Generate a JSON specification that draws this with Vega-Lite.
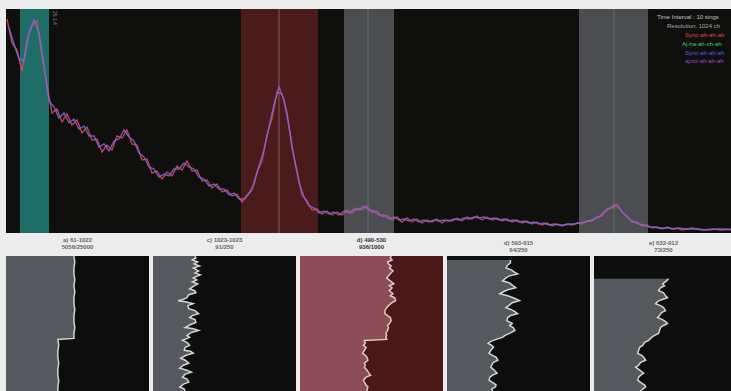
{
  "$schema": "https://vega.github.io/schema/vega-lite/v6.json",
  "padding": {"left": 4, "top": 8, "right": 0, "bottom": 0},
  "background": "#ececec",
  "config": {"view": {"stroke": null}, "font": "Liberation Sans", "title": {"font": "Liberation Sans"}},
  "spacing": 3,
  "datasets": {
    "bands": [
      {"a": 18, "b": 47, "k": "teal"},
      {"a": 239, "b": 316, "k": "red"},
      {"a": 342, "b": 392, "k": "grey"},
      {"a": 577, "b": 646, "k": "grey"}
    ],
    "marks": [
      {"p": 277, "k": "red"},
      {"p": 366, "k": "grey"},
      {"p": 612, "k": "grey"}
    ],
    "legend": [
      {"t": "Time Interval : 10 sings", "x": 655, "y": 216, "k": "a"},
      {"t": "Resolution: 1024 ch", "x": 665, "y": 207, "k": "b"},
      {"t": "Sync-ah-ah-ah", "x": 683, "y": 198, "k": "c"},
      {"t": "Aj-ha-ah-ch-ah", "x": 680, "y": 189, "k": "d"},
      {"t": "Sync-ah-ah-ah", "x": 683, "y": 180, "k": "e"},
      {"t": "ajnct-ah-ah-ah", "x": 683, "y": 172, "k": "f"}
    ],
    "spec": [
      {"s":"red","x":5,"v":214},{"s":"red","x":10,"v":190},{"s":"red","x":15,"v":183},{"s":"red","x":20,"v":162},{"s":"red","x":25,"v":193},{"s":"red","x":30,"v":207},{"s":"red","x":35,"v":212},{"s":"red","x":40,"v":176},{"s":"red","x":45,"v":148},{"s":"red","x":50,"v":120},{"s":"red","x":55,"v":124},{"s":"red","x":60,"v":111},{"s":"red","x":65,"v":119},{"s":"red","x":70,"v":108},{"s":"red","x":75,"v":113},{"s":"red","x":80,"v":100},{"s":"red","x":85,"v":106},{"s":"red","x":90,"v":93},{"s":"red","x":95,"v":94},{"s":"red","x":100,"v":81},{"s":"red","x":105,"v":88},{"s":"red","x":110,"v":83},{"s":"red","x":115,"v":97},{"s":"red","x":120,"v":95},{"s":"red","x":125,"v":103},{"s":"red","x":130,"v":89},{"s":"red","x":135,"v":88},{"s":"red","x":140,"v":73},{"s":"red","x":145,"v":74},{"s":"red","x":150,"v":60},{"s":"red","x":155,"v":62},{"s":"red","x":160,"v":54},{"s":"red","x":165,"v":61},{"s":"red","x":170,"v":57},{"s":"red","x":175,"v":67},{"s":"red","x":180,"v":63},{"s":"red","x":185,"v":72},{"s":"red","x":190,"v":62},{"s":"red","x":195,"v":63},{"s":"red","x":200,"v":52},{"s":"red","x":205,"v":53},{"s":"red","x":210,"v":45},{"s":"red","x":215,"v":49},{"s":"red","x":220,"v":41},{"s":"red","x":225,"v":43},{"s":"red","x":230,"v":37},{"s":"red","x":235,"v":39},{"s":"red","x":240,"v":31},{"s":"red","x":245,"v":37},{"s":"red","x":250,"v":43},{"s":"red","x":255,"v":61},{"s":"red","x":260,"v":72},{"s":"red","x":265,"v":98},{"s":"red","x":270,"v":115},{"s":"red","x":275,"v":141},{"s":"red","x":280,"v":139},{"s":"red","x":285,"v":121},{"s":"red","x":290,"v":85},{"s":"red","x":295,"v":62},{"s":"red","x":300,"v":38},{"s":"red","x":305,"v":32},{"s":"red","x":310,"v":23},{"s":"red","x":315,"v":24},{"s":"red","x":320,"v":19},{"s":"red","x":325,"v":22},{"s":"red","x":330,"v":18},{"s":"red","x":335,"v":21},{"s":"red","x":340,"v":18},{"s":"red","x":345,"v":23},{"s":"red","x":350,"v":20},{"s":"red","x":355,"v":25},{"s":"red","x":360,"v":23},{"s":"red","x":365,"v":27},{"s":"red","x":370,"v":20},{"s":"red","x":375,"v":22},{"s":"red","x":380,"v":16},{"s":"red","x":385,"v":18},{"s":"red","x":390,"v":13},{"s":"red","x":395,"v":16},{"s":"red","x":400,"v":11},{"s":"red","x":405,"v":15},{"s":"red","x":410,"v":11},{"s":"red","x":415,"v":14},{"s":"red","x":420,"v":10},{"s":"red","x":425,"v":13},{"s":"red","x":430,"v":11},{"s":"red","x":435,"v":14},{"s":"red","x":440,"v":10},{"s":"red","x":445,"v":13},{"s":"red","x":450,"v":12},{"s":"red","x":455,"v":15},{"s":"red","x":460,"v":12},{"s":"red","x":465,"v":16},{"s":"red","x":470,"v":14},{"s":"red","x":475,"v":17},{"s":"red","x":480,"v":13},{"s":"red","x":485,"v":16},{"s":"red","x":490,"v":13},{"s":"red","x":495,"v":15},{"s":"red","x":500,"v":12},{"s":"red","x":505,"v":14},{"s":"red","x":510,"v":11},{"s":"red","x":515,"v":13},{"s":"red","x":520,"v":10},{"s":"red","x":525,"v":12},{"s":"red","x":530,"v":9},{"s":"red","x":535,"v":11},{"s":"red","x":540,"v":8},{"s":"red","x":545,"v":10},{"s":"red","x":550,"v":7},{"s":"red","x":555,"v":9},{"s":"red","x":560,"v":7},{"s":"red","x":565,"v":9},{"s":"red","x":570,"v":8},{"s":"red","x":575,"v":10},{"s":"red","x":580,"v":9},{"s":"red","x":585,"v":12},{"s":"red","x":590,"v":12},{"s":"red","x":595,"v":16},{"s":"red","x":600,"v":17},{"s":"red","x":605,"v":24},{"s":"red","x":610,"v":25},{"s":"red","x":615,"v":29},{"s":"red","x":620,"v":21},{"s":"red","x":625,"v":17},{"s":"red","x":630,"v":11},{"s":"red","x":635,"v":11},{"s":"red","x":640,"v":7},{"s":"red","x":645,"v":8},{"s":"red","x":650,"v":5},{"s":"red","x":655,"v":6},{"s":"red","x":660,"v":4},{"s":"red","x":665,"v":6},{"s":"red","x":670,"v":4},{"s":"red","x":675,"v":5},{"s":"red","x":680,"v":3},{"s":"red","x":690,"v":5},{"s":"red","x":700,"v":3},{"s":"red","x":710,"v":4},{"s":"red","x":720,"v":3},{"s":"red","x":731,"v":4},
      {"s":"blue","x":7,"v":205},{"s":"blue","x":12,"v":189},{"s":"blue","x":17,"v":174},{"s":"blue","x":22,"v":172},{"s":"blue","x":27,"v":200},{"s":"blue","x":32,"v":213},{"s":"blue","x":37,"v":200},{"s":"blue","x":42,"v":168},{"s":"blue","x":47,"v":132},{"s":"blue","x":52,"v":126},{"s":"blue","x":57,"v":115},{"s":"blue","x":62,"v":120},{"s":"blue","x":67,"v":110},{"s":"blue","x":72,"v":114},{"s":"blue","x":77,"v":104},{"s":"blue","x":82,"v":107},{"s":"blue","x":87,"v":97},{"s":"blue","x":92,"v":97},{"s":"blue","x":97,"v":86},{"s":"blue","x":102,"v":89},{"s":"blue","x":107,"v":82},{"s":"blue","x":112,"v":92},{"s":"blue","x":117,"v":94},{"s":"blue","x":122,"v":103},{"s":"blue","x":127,"v":96},{"s":"blue","x":132,"v":92},{"s":"blue","x":137,"v":80},{"s":"blue","x":142,"v":76},{"s":"blue","x":147,"v":66},{"s":"blue","x":152,"v":64},{"s":"blue","x":157,"v":56},{"s":"blue","x":162,"v":59},{"s":"blue","x":167,"v":57},{"s":"blue","x":172,"v":64},{"s":"blue","x":177,"v":64},{"s":"blue","x":182,"v":70},{"s":"blue","x":187,"v":66},{"s":"blue","x":192,"v":64},{"s":"blue","x":197,"v":56},{"s":"blue","x":202,"v":54},{"s":"blue","x":207,"v":47},{"s":"blue","x":212,"v":49},{"s":"blue","x":217,"v":44},{"s":"blue","x":222,"v":44},{"s":"blue","x":227,"v":38},{"s":"blue","x":232,"v":40},{"s":"blue","x":237,"v":34},{"s":"blue","x":242,"v":34},{"s":"blue","x":247,"v":40},{"s":"blue","x":252,"v":49},{"s":"blue","x":257,"v":67},{"s":"blue","x":262,"v":83},{"s":"blue","x":267,"v":106},{"s":"blue","x":272,"v":128},{"s":"blue","x":277,"v":146},{"s":"blue","x":282,"v":133},{"s":"blue","x":287,"v":106},{"s":"blue","x":292,"v":76},{"s":"blue","x":297,"v":50},{"s":"blue","x":302,"v":36},{"s":"blue","x":307,"v":27},{"s":"blue","x":312,"v":25},{"s":"blue","x":317,"v":20},{"s":"blue","x":322,"v":22},{"s":"blue","x":327,"v":19},{"s":"blue","x":332,"v":21},{"s":"blue","x":337,"v":18},{"s":"blue","x":342,"v":22},{"s":"blue","x":347,"v":20},{"s":"blue","x":352,"v":24},{"s":"blue","x":357,"v":23},{"s":"blue","x":362,"v":27},{"s":"blue","x":367,"v":23},{"s":"blue","x":372,"v":22},{"s":"blue","x":377,"v":18},{"s":"blue","x":382,"v":18},{"s":"blue","x":387,"v":14},{"s":"blue","x":392,"v":16},{"s":"blue","x":397,"v":13},{"s":"blue","x":402,"v":14},{"s":"blue","x":407,"v":12},{"s":"blue","x":412,"v":14},{"s":"blue","x":417,"v":11},{"s":"blue","x":422,"v":13},{"s":"blue","x":427,"v":11},{"s":"blue","x":432,"v":13},{"s":"blue","x":437,"v":12},{"s":"blue","x":442,"v":13},{"s":"blue","x":447,"v":12},{"s":"blue","x":452,"v":14},{"s":"blue","x":457,"v":13},{"s":"blue","x":462,"v":15},{"s":"blue","x":467,"v":14},{"s":"blue","x":472,"v":16},{"s":"blue","x":477,"v":15},{"s":"blue","x":482,"v":16},{"s":"blue","x":487,"v":14},{"s":"blue","x":492,"v":15},{"s":"blue","x":497,"v":13},{"s":"blue","x":502,"v":14},{"s":"blue","x":507,"v":12},{"s":"blue","x":512,"v":13},{"s":"blue","x":517,"v":11},{"s":"blue","x":522,"v":12},{"s":"blue","x":527,"v":10},{"s":"blue","x":532,"v":11},{"s":"blue","x":537,"v":9},{"s":"blue","x":542,"v":10},{"s":"blue","x":547,"v":8},{"s":"blue","x":552,"v":9},{"s":"blue","x":557,"v":8},{"s":"blue","x":562,"v":8},{"s":"blue","x":567,"v":9},{"s":"blue","x":572,"v":9},{"s":"blue","x":577,"v":10},{"s":"blue","x":582,"v":11},{"s":"blue","x":587,"v":12},{"s":"blue","x":592,"v":14},{"s":"blue","x":597,"v":16},{"s":"blue","x":602,"v":21},{"s":"blue","x":607,"v":24},{"s":"blue","x":612,"v":28},{"s":"blue","x":617,"v":25},{"s":"blue","x":622,"v":19},{"s":"blue","x":627,"v":14},{"s":"blue","x":632,"v":11},{"s":"blue","x":637,"v":9},{"s":"blue","x":642,"v":8},{"s":"blue","x":647,"v":6},{"s":"blue","x":652,"v":6},{"s":"blue","x":657,"v":5},{"s":"blue","x":662,"v":5},{"s":"blue","x":667,"v":5},{"s":"blue","x":672,"v":4},{"s":"blue","x":677,"v":5},{"s":"blue","x":685,"v":4},{"s":"blue","x":695,"v":4},{"s":"blue","x":705,"v":3},{"s":"blue","x":715,"v":4},{"s":"blue","x":725,"v":4},{"s":"blue","x":731,"v":3}
    ],
    "prof": [
      {"p":1,"r":0,"v":76},{"p":1,"r":6,"v":77},{"p":1,"r":12,"v":76},{"p":1,"r":18,"v":76},{"p":1,"r":24,"v":77},{"p":1,"r":30,"v":76},{"p":1,"r":36,"v":77},{"p":1,"r":42,"v":76},{"p":1,"r":48,"v":76},{"p":1,"r":54,"v":77},{"p":1,"r":60,"v":76},{"p":1,"r":66,"v":76},{"p":1,"r":72,"v":77},{"p":1,"r":78,"v":76},{"p":1,"r":83,"v":76},{"p":1,"r":84,"v":58},{"p":1,"r":90,"v":59},{"p":1,"r":96,"v":58},{"p":1,"r":102,"v":58},{"p":1,"r":108,"v":59},{"p":1,"r":114,"v":58},{"p":1,"r":120,"v":58},{"p":1,"r":126,"v":59},{"p":1,"r":132,"v":58},{"p":1,"r":136,"v":58},
      {"p":2,"r":0,"v":47},{"p":2,"r":2,"v":48},{"p":2,"r":4,"v":44},{"p":2,"r":6,"v":50},{"p":2,"r":8,"v":46},{"p":2,"r":10,"v":52},{"p":2,"r":12,"v":45},{"p":2,"r":15,"v":51},{"p":2,"r":17,"v":47},{"p":2,"r":19,"v":53},{"p":2,"r":22,"v":45},{"p":2,"r":24,"v":49},{"p":2,"r":26,"v":44},{"p":2,"r":28,"v":50},{"p":2,"r":30,"v":46},{"p":2,"r":33,"v":41},{"p":2,"r":35,"v":47},{"p":2,"r":37,"v":48},{"p":2,"r":39,"v":40},{"p":2,"r":42,"v":38},{"p":2,"r":44,"v":33},{"p":2,"r":45,"v":28},{"p":2,"r":46,"v":36},{"p":2,"r":48,"v":45},{"p":2,"r":50,"v":39},{"p":2,"r":53,"v":40},{"p":2,"r":55,"v":47},{"p":2,"r":58,"v":51},{"p":2,"r":60,"v":44},{"p":2,"r":62,"v":41},{"p":2,"r":64,"v":47},{"p":2,"r":67,"v":48},{"p":2,"r":69,"v":42},{"p":2,"r":72,"v":36},{"p":2,"r":73,"v":44},{"p":2,"r":75,"v":51},{"p":2,"r":77,"v":43},{"p":2,"r":80,"v":38},{"p":2,"r":82,"v":41},{"p":2,"r":85,"v":33},{"p":2,"r":87,"v":38},{"p":2,"r":90,"v":41},{"p":2,"r":92,"v":36},{"p":2,"r":95,"v":35},{"p":2,"r":96,"v":42},{"p":2,"r":98,"v":45},{"p":2,"r":100,"v":37},{"p":2,"r":103,"v":31},{"p":2,"r":105,"v":36},{"p":2,"r":108,"v":40},{"p":2,"r":110,"v":34},{"p":2,"r":113,"v":30},{"p":2,"r":115,"v":38},{"p":2,"r":117,"v":43},{"p":2,"r":119,"v":36},{"p":2,"r":122,"v":33},{"p":2,"r":124,"v":38},{"p":2,"r":127,"v":40},{"p":2,"r":129,"v":34},{"p":2,"r":132,"v":30},{"p":2,"r":134,"v":35},{"p":2,"r":136,"v":36},
      {"p":3,"r":0,"v":102},{"p":3,"r":2,"v":101},{"p":3,"r":4,"v":103},{"p":3,"r":6,"v":98},{"p":3,"r":8,"v":99},{"p":3,"r":10,"v":102},{"p":3,"r":12,"v":100},{"p":3,"r":15,"v":104},{"p":3,"r":18,"v":101},{"p":3,"r":20,"v":99},{"p":3,"r":22,"v":97},{"p":3,"r":25,"v":101},{"p":3,"r":28,"v":105},{"p":3,"r":30,"v":100},{"p":3,"r":32,"v":103},{"p":3,"r":35,"v":100},{"p":3,"r":38,"v":104},{"p":3,"r":40,"v":101},{"p":3,"r":42,"v":106},{"p":3,"r":45,"v":107},{"p":3,"r":47,"v":103},{"p":3,"r":50,"v":99},{"p":3,"r":52,"v":97},{"p":3,"r":55,"v":95},{"p":3,"r":58,"v":95},{"p":3,"r":60,"v":98},{"p":3,"r":62,"v":101},{"p":3,"r":65,"v":102},{"p":3,"r":68,"v":100},{"p":3,"r":70,"v":98},{"p":3,"r":72,"v":99},{"p":3,"r":75,"v":98},{"p":3,"r":78,"v":96},{"p":3,"r":80,"v":97},{"p":3,"r":82,"v":96},{"p":3,"r":84,"v":97},{"p":3,"r":85,"v":72},{"p":3,"r":88,"v":73},{"p":3,"r":90,"v":71},{"p":3,"r":92,"v":74},{"p":3,"r":95,"v":72},{"p":3,"r":98,"v":70},{"p":3,"r":100,"v":73},{"p":3,"r":102,"v":75},{"p":3,"r":105,"v":76},{"p":3,"r":108,"v":72},{"p":3,"r":110,"v":73},{"p":3,"r":112,"v":72},{"p":3,"r":115,"v":75},{"p":3,"r":118,"v":77},{"p":3,"r":120,"v":79},{"p":3,"r":122,"v":74},{"p":3,"r":125,"v":71},{"p":3,"r":127,"v":72},{"p":3,"r":130,"v":74},{"p":3,"r":132,"v":76},{"p":3,"r":135,"v":75},{"p":3,"r":136,"v":74},
      {"p":4,"r":4,"v":71},{"p":4,"r":7,"v":71},{"p":4,"r":9,"v":68},{"p":4,"r":12,"v":66},{"p":4,"r":14,"v":72},{"p":4,"r":16,"v":75},{"p":4,"r":18,"v":79},{"p":4,"r":20,"v":70},{"p":4,"r":22,"v":66},{"p":4,"r":25,"v":62},{"p":4,"r":27,"v":70},{"p":4,"r":30,"v":74},{"p":4,"r":32,"v":77},{"p":4,"r":34,"v":68},{"p":4,"r":36,"v":63},{"p":4,"r":38,"v":59},{"p":4,"r":40,"v":68},{"p":4,"r":42,"v":74},{"p":4,"r":45,"v":81},{"p":4,"r":47,"v":73},{"p":4,"r":50,"v":69},{"p":4,"r":52,"v":66},{"p":4,"r":54,"v":72},{"p":4,"r":56,"v":76},{"p":4,"r":58,"v":79},{"p":4,"r":60,"v":71},{"p":4,"r":62,"v":68},{"p":4,"r":65,"v":67},{"p":4,"r":68,"v":73},{"p":4,"r":70,"v":70},{"p":4,"r":72,"v":74},{"p":4,"r":75,"v":76},{"p":4,"r":78,"v":70},{"p":4,"r":80,"v":65},{"p":4,"r":82,"v":62},{"p":4,"r":84,"v":55},{"p":4,"r":86,"v":49},{"p":4,"r":88,"v":46},{"p":4,"r":90,"v":50},{"p":4,"r":92,"v":52},{"p":4,"r":95,"v":49},{"p":4,"r":98,"v":47},{"p":4,"r":100,"v":51},{"p":4,"r":102,"v":55},{"p":4,"r":105,"v":57},{"p":4,"r":107,"v":52},{"p":4,"r":110,"v":50},{"p":4,"r":112,"v":49},{"p":4,"r":115,"v":53},{"p":4,"r":118,"v":56},{"p":4,"r":120,"v":51},{"p":4,"r":122,"v":48},{"p":4,"r":125,"v":47},{"p":4,"r":128,"v":52},{"p":4,"r":130,"v":55},{"p":4,"r":132,"v":54},{"p":4,"r":134,"v":50},{"p":4,"r":136,"v":51},
      {"p":5,"r":23,"v":75},{"p":5,"r":25,"v":73},{"p":5,"r":28,"v":69},{"p":5,"r":30,"v":71},{"p":5,"r":32,"v":67},{"p":5,"r":35,"v":65},{"p":5,"r":37,"v":70},{"p":5,"r":40,"v":72},{"p":5,"r":42,"v":74},{"p":5,"r":44,"v":68},{"p":5,"r":46,"v":64},{"p":5,"r":48,"v":62},{"p":5,"r":50,"v":67},{"p":5,"r":52,"v":70},{"p":5,"r":55,"v":72},{"p":5,"r":57,"v":68},{"p":5,"r":60,"v":66},{"p":5,"r":62,"v":64},{"p":5,"r":64,"v":69},{"p":5,"r":66,"v":72},{"p":5,"r":68,"v":74},{"p":5,"r":70,"v":70},{"p":5,"r":72,"v":67},{"p":5,"r":75,"v":66},{"p":5,"r":78,"v":65},{"p":5,"r":80,"v":61},{"p":5,"r":82,"v":58},{"p":5,"r":85,"v":55},{"p":5,"r":87,"v":51},{"p":5,"r":90,"v":49},{"p":5,"r":92,"v":46},{"p":5,"r":95,"v":45},{"p":5,"r":98,"v":44},{"p":5,"r":100,"v":48},{"p":5,"r":102,"v":50},{"p":5,"r":105,"v":52},{"p":5,"r":107,"v":47},{"p":5,"r":110,"v":45},{"p":5,"r":112,"v":42},{"p":5,"r":115,"v":46},{"p":5,"r":118,"v":50},{"p":5,"r":120,"v":47},{"p":5,"r":122,"v":45},{"p":5,"r":125,"v":44},{"p":5,"r":128,"v":48},{"p":5,"r":130,"v":51},{"p":5,"r":132,"v":52},{"p":5,"r":134,"v":49},{"p":5,"r":136,"v":47}
    ]
  },
  "vconcat": [
    {
      "width": 727,
      "height": 224,
      "view": {"fill": "#0f0f0d", "stroke": null},
      "resolve": {"scale": {"color": "independent"}},
      "layer": [
        {
          "data": {"name": "bands"},
          "mark": {"type": "rect"},
          "encoding": {
            "x": {"field": "a", "type": "quantitative", "scale": {"domain": [4, 731], "nice": false, "zero": false}, "axis": null},
            "x2": {"field": "b"},
            "color": {"field": "k", "type": "nominal", "scale": {"domain": ["teal", "red", "grey"], "range": ["#1e6d66", "#4a1b1b", "#4b4d50"]}, "legend": null}
          }
        },
        {
          "data": {"name": "marks"},
          "mark": {"type": "rule", "strokeWidth": 1},
          "encoding": {
            "x": {"field": "p", "type": "quantitative", "scale": {"domain": [4, 731], "nice": false, "zero": false}, "axis": null},
            "color": {"field": "k", "type": "nominal", "scale": {"domain": ["red", "grey"], "range": ["#7d5c5c", "#5a7878"]}, "legend": null}
          }
        },
        {
          "data": {"name": "spec"},
          "mark": {"type": "line", "strokeWidth": 1.4, "opacity": 0.85},
          "encoding": {
            "x": {"field": "x", "type": "quantitative", "scale": {"domain": [4, 731], "nice": false, "zero": false}, "axis": null},
            "y": {"field": "v", "type": "quantitative", "scale": {"domain": [0, 224], "nice": false, "zero": false}, "axis": null},
            "color": {"field": "s", "type": "nominal", "scale": {"domain": ["red", "blue"], "range": ["#e0485a", "#7a6ae0"]}, "legend": null}
          }
        },
        {
          "data": {"values": [{"t": "25.1.4", "x": 53, "y": 222}]},
          "mark": {"type": "text", "angle": 90, "align": "left", "baseline": "middle", "fontSize": 5, "color": "#8a8a8a"},
          "encoding": {
            "x": {"field": "x", "type": "quantitative", "scale": {"domain": [4, 731], "nice": false, "zero": false}, "axis": null},
            "y": {"field": "y", "type": "quantitative", "scale": {"domain": [0, 224], "nice": false, "zero": false}, "axis": null},
            "text": {"field": "t"}
          }
        },
        {
          "data": {"name": "legend"},
          "mark": {"type": "text", "align": "left", "baseline": "middle", "fontSize": 6, "clip": true},
          "encoding": {
            "x": {"field": "x", "type": "quantitative", "scale": {"domain": [4, 731], "nice": false, "zero": false}, "axis": null},
            "y": {"field": "y", "type": "quantitative", "scale": {"domain": [0, 224], "nice": false, "zero": false}, "axis": null},
            "text": {"field": "t"},
            "color": {"field": "k", "type": "nominal", "scale": {"domain": ["a", "b", "c", "d", "e", "f"], "range": ["#c8c8c8", "#a8a8a8", "#e04a3a", "#55c84a", "#5a55e0", "#a048c0"]}, "legend": null}
          }
        }
      ]
    },
    {
      "spacing": 4,
      "hconcat": [
        {
          "width": 143, "height": 139,
          "view": {"fill": "#0d0d0d", "stroke": null},
          "title": {"text": ["a) 61-1022", "5056/25000"], "fontSize": 6, "lineHeight": 7, "color": "#666666", "fontWeight": "bold", "offset": 3},
          "data": {"name": "prof"},
          "transform": [{"filter": "datum.p == 1"}],
          "layer": [
            {"mark": {"type": "area", "orient": "horizontal", "color": "#55585c"},
             "encoding": {"y": {"field": "r", "type": "quantitative", "scale": {"domain": [0, 136], "reverse": true}, "axis": null},
                          "x": {"field": "v", "type": "quantitative", "scale": {"domain": [0, 143]}, "axis": null}}},
            {"mark": {"type": "line", "orient": "horizontal", "color": "#d4d4d4", "strokeWidth": 1.5},
             "encoding": {"y": {"field": "r", "type": "quantitative"}, "x": {"field": "v", "type": "quantitative"}, "order": {"field": "r", "type": "quantitative"}}}
          ]
        },
        {
          "width": 143, "height": 139,
          "view": {"fill": "#0d0d0d", "stroke": null},
          "title": {"text": ["c) 1023-1023", "91/250"], "fontSize": 6, "lineHeight": 7, "color": "#666666", "fontWeight": "bold", "offset": 3},
          "data": {"name": "prof"},
          "transform": [{"filter": "datum.p == 2"}],
          "layer": [
            {"mark": {"type": "area", "orient": "horizontal", "color": "#55585c"},
             "encoding": {"y": {"field": "r", "type": "quantitative", "scale": {"domain": [0, 136], "reverse": true}, "axis": null},
                          "x": {"field": "v", "type": "quantitative", "scale": {"domain": [0, 143]}, "axis": null}}},
            {"mark": {"type": "line", "orient": "horizontal", "color": "#d4d4d4", "strokeWidth": 1.5},
             "encoding": {"y": {"field": "r", "type": "quantitative"}, "x": {"field": "v", "type": "quantitative"}, "order": {"field": "r", "type": "quantitative"}}}
          ]
        },
        {
          "width": 143, "height": 139,
          "view": {"fill": "#4a1818", "stroke": null},
          "title": {"text": ["d) 490-530", "936/1000"], "fontSize": 6, "lineHeight": 7, "color": "#333333", "fontWeight": "bold", "offset": 3},
          "data": {"name": "prof"},
          "transform": [{"filter": "datum.p == 3"}],
          "layer": [
            {"mark": {"type": "area", "orient": "horizontal", "color": "#8c4d57"},
             "encoding": {"y": {"field": "r", "type": "quantitative", "scale": {"domain": [0, 136], "reverse": true}, "axis": null},
                          "x": {"field": "v", "type": "quantitative", "scale": {"domain": [0, 143]}, "axis": null}}},
            {"mark": {"type": "line", "orient": "horizontal", "color": "#dccaca", "strokeWidth": 1.5},
             "encoding": {"y": {"field": "r", "type": "quantitative"}, "x": {"field": "v", "type": "quantitative"}, "order": {"field": "r", "type": "quantitative"}}}
          ]
        },
        {
          "width": 143, "height": 139,
          "view": {"fill": "#0d0d0d", "stroke": null},
          "title": {"text": ["d) 593-615", "64/250"], "fontSize": 6, "lineHeight": 7, "color": "#666666", "fontWeight": "bold", "offset": 3},
          "data": {"name": "prof"},
          "transform": [{"filter": "datum.p == 4"}],
          "layer": [
            {"mark": {"type": "area", "orient": "horizontal", "color": "#55585c"},
             "encoding": {"y": {"field": "r", "type": "quantitative", "scale": {"domain": [0, 136], "reverse": true}, "axis": null},
                          "x": {"field": "v", "type": "quantitative", "scale": {"domain": [0, 143]}, "axis": null}}},
            {"mark": {"type": "line", "orient": "horizontal", "color": "#d4d4d4", "strokeWidth": 1.5},
             "encoding": {"y": {"field": "r", "type": "quantitative"}, "x": {"field": "v", "type": "quantitative"}, "order": {"field": "r", "type": "quantitative"}}}
          ]
        },
        {
          "width": 139, "height": 139,
          "view": {"fill": "#0d0d0d", "stroke": null},
          "title": {"text": ["e) 632-912", "73/250"], "fontSize": 6, "lineHeight": 7, "color": "#666666", "fontWeight": "bold", "offset": 3},
          "data": {"name": "prof"},
          "transform": [{"filter": "datum.p == 5"}],
          "layer": [
            {"mark": {"type": "area", "orient": "horizontal", "color": "#55585c"},
             "encoding": {"y": {"field": "r", "type": "quantitative", "scale": {"domain": [0, 136], "reverse": true}, "axis": null},
                          "x": {"field": "v", "type": "quantitative", "scale": {"domain": [0, 139]}, "axis": null}}},
            {"mark": {"type": "line", "orient": "horizontal", "color": "#d4d4d4", "strokeWidth": 1.5},
             "encoding": {"y": {"field": "r", "type": "quantitative"}, "x": {"field": "v", "type": "quantitative"}, "order": {"field": "r", "type": "quantitative"}}}
          ]
        }
      ]
    }
  ]
}
